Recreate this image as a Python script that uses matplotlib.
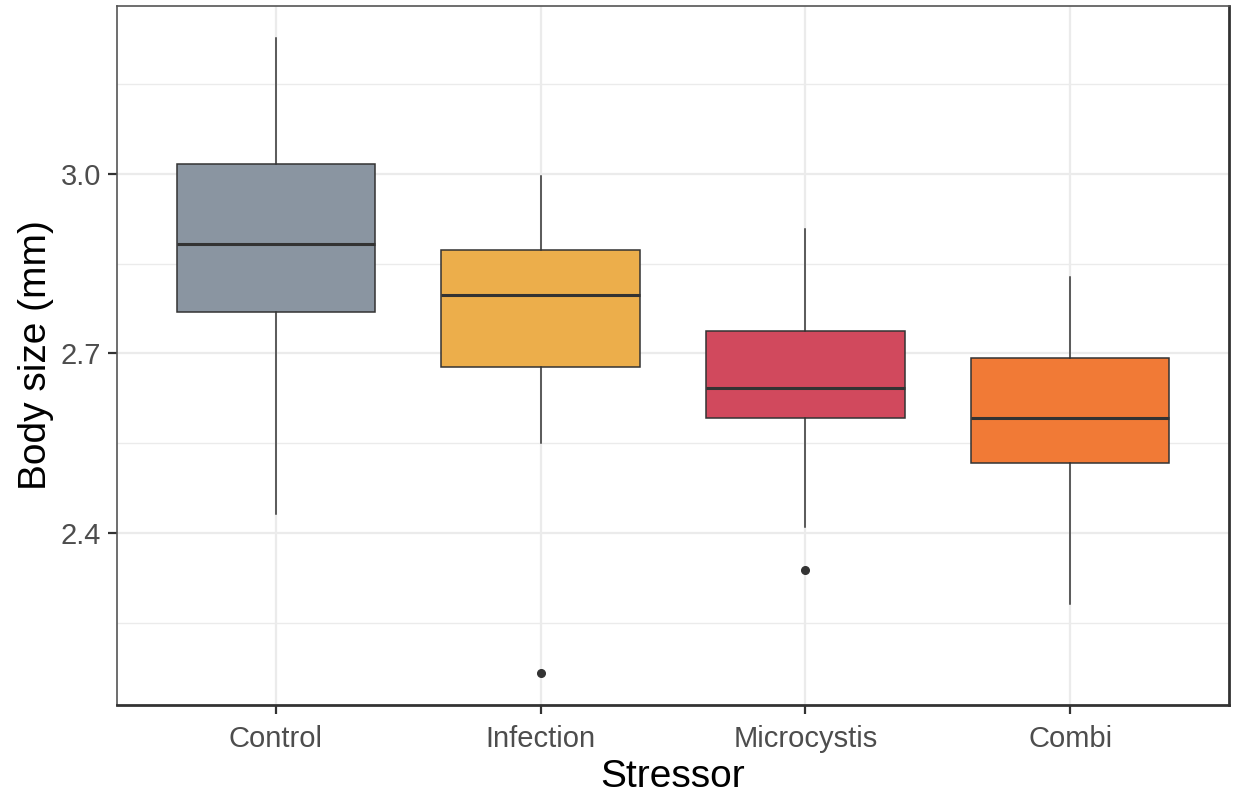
import matplotlib
matplotlib.use("Agg")
import matplotlib.pyplot as plt

plt.rcParams['font.family'] = ['Liberation Sans', 'DejaVu Sans']

# Five-number summaries per stressor group (mm)
groups = ["Control", "Infection", "Microcystis", "Combi"]
whisker_low = [2.432, 2.550, 2.410, 2.282]
q1 = [2.770, 2.677, 2.592, 2.518]
median = [2.883, 2.797, 2.642, 2.592]
q3 = [3.017, 2.873, 2.737, 2.692]
whisker_high = [3.227, 2.997, 2.907, 2.828]
outliers = [[], [2.167], [2.338], []]
fill_colors = ["#8A95A1", "#ECAE4B", "#D1495D", "#F17A36"]

y_major = [2.4, 2.7, 3.0]
y_minor = [2.25, 2.55, 2.85, 3.15]

fig = plt.figure(figsize=(12.35, 7.95), dpi=100)
ax = fig.add_axes([117 / 1235, 90 / 795, (1229 - 117) / 1235, (705 - 6) / 795])

stats = []
for i, g in enumerate(groups):
    stats.append(dict(label=g, whislo=whisker_low[i], q1=q1[i], med=median[i],
                      q3=q3[i], whishi=whisker_high[i], fliers=outliers[i]))

positions = list(range(1, len(groups) + 1))
bp = ax.bxp(stats, positions=positions, widths=0.75, patch_artist=True,
            showcaps=False,
            boxprops=dict(edgecolor="#333333", linewidth=1.1),
            medianprops=dict(color="#333333", linewidth=2.2, solid_capstyle="butt"),
            whiskerprops=dict(color="#333333", linewidth=1.1),
            flierprops=dict(marker="o", markersize=5.5, markerfacecolor="#333333",
                            markeredgecolor="#333333"),
            zorder=3)
for patch, c in zip(bp["boxes"], fill_colors):
    patch.set_facecolor(c)

ax.set_xlim(0.4, 4.6)
ax.set_ylim(2.1133, 3.28)

ax.set_yticks(y_major)
ax.set_yticklabels([f"{v:.1f}" for v in y_major])
ax.set_yticks(y_minor, minor=True)
ax.set_xticks(positions)
ax.set_xticklabels(groups)

ax.set_axisbelow(True)
ax.grid(True, which="major", color="#EBEBEB", linewidth=1.6)
ax.grid(True, which="minor", axis="y", color="#EBEBEB", linewidth=1.0)

ax.tick_params(axis="both", which="major", length=6.5, width=1.6, color="#333333",
               labelsize=21, labelcolor="#4D4D4D")
ax.tick_params(axis="x", which="major", pad=8)
ax.tick_params(axis="y", which="major", pad=5)
ax.tick_params(axis="y", which="minor", length=0)

for side in ["top", "left"]:
    ax.spines[side].set_color("#555555")
    ax.spines[side].set_linewidth(1.2)
for side in ["bottom", "right"]:
    ax.spines[side].set_color("#333333")
    ax.spines[side].set_linewidth(2.0)

ax.set_xlabel("Stressor", fontsize=28, color="black", labelpad=4)
ax.set_ylabel("Body size (mm)", fontsize=28, color="black", labelpad=5)

fig.savefig("out.png", dpi=100, facecolor="white")
